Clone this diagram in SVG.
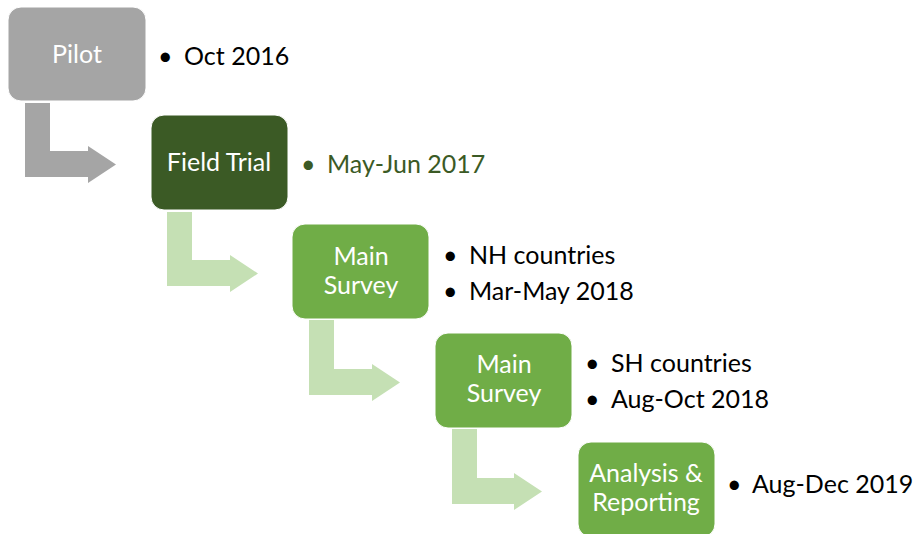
<svg xmlns="http://www.w3.org/2000/svg" width="914" height="534" viewBox="0 0 914 534">
<style>
  .box { stroke: #ffffff; stroke-width: 1; }
  .lbl { font-family: Lato, "Liberation Sans", sans-serif; font-size: 25px; fill: #ffffff; text-anchor: middle; }
  .txt { font-family: Lato, "Liberation Sans", sans-serif; font-size: 25px; fill: #000000; }
  .gray { fill: #a5a5a5; }
  .light { fill: #c5e0b4; }
</style>
<rect width="914" height="534" fill="#ffffff"/>
<g id="connectors">
  <path class="gray" d="M25,103 H50 V151 H88 V146 L116,164.5 L88,183 V177 H25 Z"/>
  <path class="light" d="M167,212 H192 V260 H230 V255 L258,273.5 L230,292 V286 H167 Z"/>
  <path class="light" d="M309,320 H334 V369 H372 V364 L400,382.5 L372,401 V395 H309 Z"/>
  <path class="light" d="M452,429 H477 V478 H514 V473 L542,491.5 L514,510 V504 H452 Z"/>
</g>
<g id="pilot">
  <rect class="box" x="8" y="7" width="138" height="94" rx="13" fill="#a5a5a5"/>
  <text class="lbl" x="77" y="63">Pilot</text>
  <text class="txt" x="158" y="65">•</text>
  <text class="txt" x="184" y="65">Oct 2016</text>
</g>
<g id="field-trial">
  <rect class="box" x="151" y="115" width="137" height="95" rx="13" fill="#3b5a25"/>
  <text class="lbl" x="219" y="171">Field Trial</text>
  <text class="txt" x="301" y="173" style="fill:#3b5a25">•</text>
  <text class="txt" x="327" y="173" style="fill:#3b5a25">May-Jun 2017</text>
</g>
<g id="main-survey-1">
  <rect class="box" x="292" y="224" width="137" height="95" rx="13" fill="#70ad47"/>
  <text class="lbl" x="361" y="265">Main</text>
  <text class="lbl" x="361" y="294">Survey</text>
  <text class="txt" x="443" y="264">•</text>
  <text class="txt" x="469" y="264">NH countries</text>
  <text class="txt" x="443" y="300">•</text>
  <text class="txt" x="469" y="300">Mar-May 2018</text>
</g>
<g id="main-survey-2">
  <rect class="box" x="435" y="333" width="137" height="95" rx="13" fill="#70ad47"/>
  <text class="lbl" x="504" y="373">Main</text>
  <text class="lbl" x="504" y="402">Survey</text>
  <text class="txt" x="585" y="372">•</text>
  <text class="txt" x="611" y="372">SH countries</text>
  <text class="txt" x="585" y="408">•</text>
  <text class="txt" x="611" y="408">Aug-Oct 2018</text>
</g>
<g id="analysis-reporting">
  <rect class="box" x="578" y="442" width="137" height="95" rx="13" fill="#70ad47"/>
  <text class="lbl" x="646" y="482">Analysis &amp;</text>
  <text class="lbl" x="646" y="511">Reporting</text>
  <text class="txt" x="727" y="493">•</text>
  <text class="txt" x="752" y="493">Aug-Dec 2019</text>
</g>
</svg>
